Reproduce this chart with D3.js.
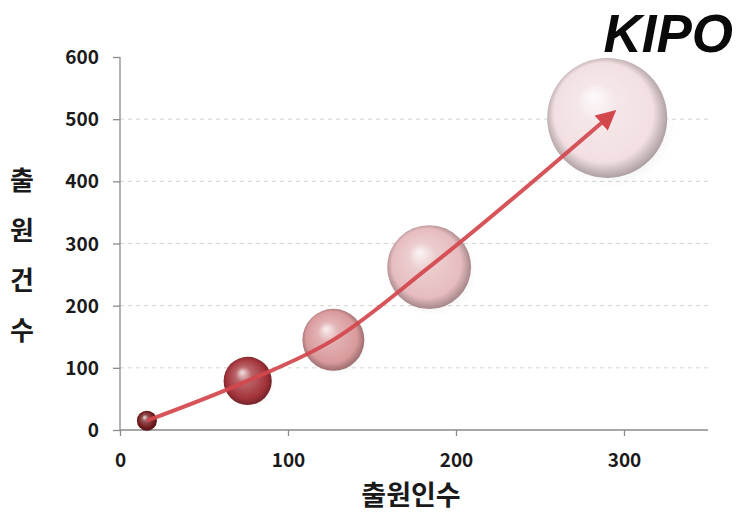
<!DOCTYPE html>
<html>
<head>
<meta charset="utf-8">
<script src="https://cdn.jsdelivr.net/npm/d3@7"></script>
<style>
  html, body { margin: 0; padding: 0; background: #fff; }
  svg { display: block; }
</style>
</head>
<body>
<svg id="chart" width="736" height="522"></svg>
<script>
// Applicants (x), applications (y) and a relative bubble weight per stage
const applicants   = [16, 76, 127, 184, 290];
const applications = [15, 79, 145, 262, 502];
const weights      = [1, 5.8, 9.6, 17.6, 36];
const xTicks = [0, 100, 200, 300];
const yTicks = [0, 100, 200, 300, 400, 500, 600];
const xTitle = "출원인수";
const yTitle = ["출", "원", "건", "수"];
const brand = "KIPO";

// bubble shading: dark red for the smallest, fading to pale pink
const bubbleColors = ["#701a1d", "#a3333a", "#d99a9c", "#e6bcbf", "#f2dfe1"];

const svg = d3.select("#chart");
const margin = { left: 120, right: 28, top: 57, bottom: 92 };
const W = 736, H = 522;

const x = d3.scaleLinear().domain([0, 350]).range([margin.left, W - margin.right]);
const y = d3.scaleLinear().domain([0, 600]).range([H - margin.bottom, margin.top]);
const r = d3.scaleSqrt().domain([0, 1]).range([0, 10]);

const font = "'Noto Sans CJK KR', 'Noto Sans', sans-serif";

const defs = svg.append("defs");
bubbleColors.forEach((c, i) => {
  const g = defs.append("radialGradient")
    .attr("id", "ball" + i)
    .attr("cx", "50%").attr("cy", "50%").attr("r", "55%")
    .attr("fx", "38%").attr("fy", "32%");
  const base = d3.color(c);
  g.append("stop").attr("offset", "0%").attr("stop-color", d3.interpolateRgb(c, "#fff")(0.85));
  g.append("stop").attr("offset", "30%").attr("stop-color", d3.interpolateRgb(c, "#fff")(0.25));
  g.append("stop").attr("offset", "75%").attr("stop-color", c);
  g.append("stop").attr("offset", "100%").attr("stop-color", base.darker(1.4));
});
const shadow = defs.append("radialGradient").attr("id", "shadow");
shadow.append("stop").attr("offset", "0%").attr("stop-color", "#000").attr("stop-opacity", 0.18);
shadow.append("stop").attr("offset", "100%").attr("stop-color", "#000").attr("stop-opacity", 0);

defs.append("marker")
  .attr("id", "arrowHead")
  .attr("viewBox", "0 0 10 10")
  .attr("refX", 4).attr("refY", 5)
  .attr("markerWidth", 5).attr("markerHeight", 5)
  .attr("markerUnits", "strokeWidth")
  .attr("orient", "auto")
  .append("path")
  .attr("d", "M0,0 L10,5 L0,10 z")
  .attr("fill", "#d3464c");

// dashed gridlines
svg.append("g")
  .selectAll("line")
  .data(yTicks.filter(t => t > 0 && t < 600))
  .join("line")
  .attr("x1", x(0)).attr("x2", x(350))
  .attr("y1", d => y(d)).attr("y2", d => y(d))
  .attr("stroke", "#d4d4d4")
  .attr("stroke-width", 1)
  .attr("stroke-dasharray", "4,4");

// axes
const xAxis = svg.append("g")
  .attr("transform", `translate(0,${y(0)})`)
  .call(d3.axisBottom(x).tickValues(xTicks).tickSize(6).tickPadding(14));
const yAxis = svg.append("g")
  .attr("transform", `translate(${x(0)},0)`)
  .call(d3.axisLeft(y).tickValues(yTicks).tickSize(7).tickPadding(14));

[xAxis, yAxis].forEach(a => {
  a.select(".domain").attr("stroke", "#8a8a8a").attr("stroke-width", 1.3);
  a.selectAll(".tick line").attr("stroke", "#8a8a8a").attr("stroke-width", 1.3);
  a.selectAll(".tick text")
    .attr("font-family", font)
    .attr("font-size", 19)
    .attr("font-weight", 700)
    .attr("fill", "#1a1a1a");
});
yAxis.select(".domain").attr("d", `M0,${y(600)}V${y(0)}`);
xAxis.select(".domain").attr("d", `M${x(0)},0H${x(350)}`);
xAxis.selectAll(".tick text").attr("dy", "0.9em");
yAxis.selectAll(".tick text").attr("dy", "0.35em");

// bubbles, with a soft shadow below each
const pts = applicants.map((v, i) => ({ x: v, y: applications[i], w: weights[i], i }));
const bub = svg.append("g").selectAll("g").data(pts).join("g");
bub.append("ellipse")
  .attr("cx", d => x(d.x) + r(d.w) * 0.08)
  .attr("cy", d => y(d.y) + r(d.w) * 0.12)
  .attr("rx", d => r(d.w) * 1.05)
  .attr("ry", d => r(d.w) * 1.05)
  .attr("fill", "url(#shadow)");
bub.append("circle")
  .attr("cx", d => x(d.x))
  .attr("cy", d => y(d.y))
  .attr("r", d => r(d.w))
  .attr("fill", d => `url(#ball${d.i})`);

// growth arrow through the bubble centres
const line = d3.line()
  .x(d => x(d.x))
  .y(d => y(d.y))
  .curve(d3.curveMonotoneX);
svg.append("path")
  .datum(pts)
  .attr("d", line)
  .attr("fill", "none")
  .attr("stroke", "#d3464c")
  .attr("stroke-width", 4)
  .attr("stroke-opacity", 0.92)
  .attr("marker-end", "url(#arrowHead)");

// titles
svg.append("text")
  .attr("x", (x(0) + x(350)) / 2 - 3)
  .attr("y", 505)
  .attr("text-anchor", "middle")
  .attr("font-family", font)
  .attr("font-size", 27)
  .attr("font-weight", 700)
  .attr("fill", "#1a1a1a")
  .text(xTitle);

svg.append("g")
  .selectAll("text")
  .data(yTitle)
  .join("text")
  .attr("x", 22)
  .attr("y", (d, i) => 190 + i * 50)
  .attr("text-anchor", "middle")
  .attr("font-family", font)
  .attr("font-size", 26)
  .attr("font-weight", 700)
  .attr("fill", "#1a1a1a")
  .text(d => d);

svg.append("text")
  .attr("x", 733)
  .attr("y", 52)
  .attr("text-anchor", "end")
  .attr("font-family", "'Liberation Sans', Arial, sans-serif")
  .attr("font-size", 53)
  .attr("font-weight", 700)
  .attr("font-style", "italic")
  .attr("fill", "#0a0a0a")
  .text(brand);
</script>
</body>
</html>
